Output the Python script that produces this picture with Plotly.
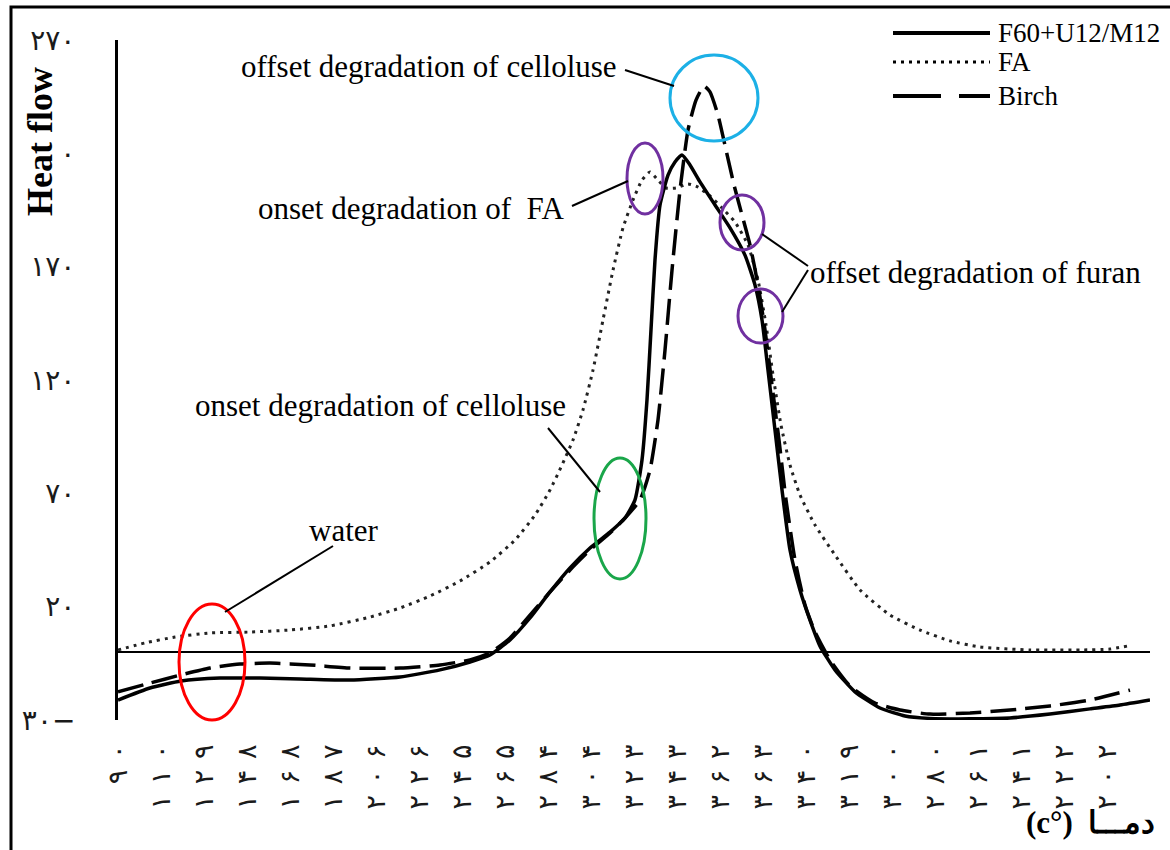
import plotly.graph_objects as go

# ---------------- data ----------------
# x positions are in "category label" units: label k sits at x = k
x_tick_pos = list(range(24))
x_tick_labels = ["۹۰", "۱۱۰", "۱۲۹", "۱۴۸", "۱۶۸", "۱۸۷", "۲۰۶", "۲۲۶", "۲۴۵", "۲۶۵",
                 "۲۸۴", "۳۰۴", "۳۲۳", "۳۴۳", "۳۶۲", "۳۶۳", "۳۴۰", "۳۱۹", "۳۰۰", "۲۸۰",
                 "۲۶۱", "۲۴۱", "۲۲۲", "۲۰۲"]
y_tick_vals = [270, 220, 170, 120, 70, 20, -30]
y_tick_labels = ["۲۷۰", "۲۲۰", "۱۷۰", "۱۲۰", "۷۰", "۲۰", "۳۰−"]

f60_x = [0, 0.744, 1.465, 2.372, 3.302, 4.233, 5.395, 6.558, 7.488, 8.186, 8.651, 9.116,
         9.581, 10.047, 10.512, 10.977, 11.442, 11.791, 12.023, 12.186, 12.302, 12.395,
         12.488, 12.605, 12.791, 12.953, 13.116, 13.302, 13.535, 13.884, 14.233, 14.581,
         14.814, 14.977, 15.116, 15.279, 15.442, 15.628, 15.860, 16.093, 16.326, 16.674,
         17.140, 17.721, 18.302, 18.884, 19.814, 20.744, 21.674, 22.605, 23.302, 24.0]
f60_y = [-21.2, -15.9, -12.8, -11.5, -11.5, -11.9, -12.4, -11.0, -7.9, -4.4, -1.3, 5.3,
         15.0, 26.5, 37.1, 45.9, 52.9, 59.1, 67.1, 84.7, 111.2, 142.1,
         172.9, 197.2, 210.4, 216.2, 219.3, 214.9, 207.4, 197.2, 187.1, 175.1,
         161.9, 146.5, 124.4, 97.9, 71.5, 45.0, 27.4, 14.1, 2.6, -7.9,
         -17.6, -24.7, -28.2, -29.3, -29.5, -29.1, -27.4, -25.1, -23.4, -21.2]

fa_x = [0, 0.628, 1.326, 2.140, 3.070, 4.0, 4.930, 5.860, 6.558, 7.256, 7.953, 8.651,
        9.233, 9.698, 10.047, 10.326, 10.581, 10.814, 11.047, 11.279, 11.512, 11.744,
        11.977, 12.186, 12.372, 12.558, 12.744, 12.977, 13.256, 13.488, 13.767, 14.047,
        14.349, 14.651, 14.884, 15.070, 15.233, 15.419, 15.628, 15.860, 16.209, 16.674,
        17.256, 17.953, 18.651, 19.349, 20.047, 21.209, 22.372, 23.070, 23.465]
fa_y = [0.9, 4.0, 6.6, 8.4, 8.8, 9.7, 11.5, 15.4, 19.4, 24.7, 31.3, 39.7,
        49.4, 60.4, 71.5, 82.5, 93.5, 106.8, 124.4, 146.5, 168.5, 187.1,
        199.4, 208.2, 211.8, 208.2, 204.7, 204.7, 206.5, 205.1, 201.2, 195.9,
        189.7, 179.6, 164.1, 144.3, 122.2, 100.1, 82.5, 69.3, 56.0, 42.8,
        27.4, 16.3, 9.7, 4.9, 2.2, 0.9, 0.9, 1.3, 2.6]

birch_x = [0, 0.744, 1.465, 2.140, 2.837, 3.535, 4.465, 5.395, 6.558, 7.488, 8.186, 8.651,
           9.116, 9.581, 10.047, 10.512, 10.977, 11.442, 11.791, 12.140, 12.372, 12.558,
           12.721, 12.884, 13.070, 13.256, 13.442, 13.628, 13.767, 13.953, 14.140, 14.326,
           14.512, 14.698, 14.884, 15.047, 15.209, 15.372, 15.535, 15.744, 15.977, 16.209,
           16.558, 17.023, 17.605, 18.186, 18.884, 19.814, 20.744, 21.674, 22.605, 23.535]
birch_y = [-17.6, -13.7, -10.1, -7.1, -5.3, -4.9, -5.7, -7.1, -7.1, -5.7, -3.5, -0.4,
           6.2, 16.3, 26.5, 36.2, 45.0, 52.5, 59.1, 67.1, 80.3, 102.4,
           133.2, 168.5, 203.8, 230.3, 243.5, 249.7, 247.1, 236.9, 221.5, 206.0,
           192.8, 179.6, 161.9, 142.1, 117.8, 93.5, 67.1, 40.6, 20.7, 8.8,
           -3.5, -15.0, -22.5, -25.6, -27.4, -26.9, -25.6, -23.8, -21.2, -16.8]

# ---------------- layout helpers (pixel -> paper) ----------------
W, H = 1170, 850
L, R, T, B = 118, 20, 40, 130
PW, PH = W - L - R, H - T - B


def px(x):
    return (x - L) / PW


def py(y):
    return (H - B - y) / PH


SERIF = "Times New Roman, Liberation Serif, serif"
DIGITS = "DejaVu Sans, Noto Sans, sans-serif"


def spaced(s, sep):
    return sep.join(list(s))


fig = go.Figure()
fig.add_trace(go.Scatter(x=fa_x, y=fa_y, mode="lines", name="FA",
                         line=dict(color="#222", width=3, dash="3px,5px", shape="spline", smoothing=0.5)))
fig.add_trace(go.Scatter(x=birch_x, y=birch_y, mode="lines", name="Birch",
                         line=dict(color="black", width=3.5, dash="26px,9px", shape="spline", smoothing=0.5)))
fig.add_trace(go.Scatter(x=f60_x, y=f60_y, mode="lines", name="F60+U12/M12",
                         line=dict(color="black", width=3.5, shape="spline", smoothing=0.5)))

fig.update_layout(
    width=W, height=H, autosize=False,
    margin=dict(l=L, r=R, t=T, b=B),
    plot_bgcolor="white", paper_bgcolor="white",
    showlegend=False,
    xaxis=dict(range=[0, 24], tickmode="array", tickvals=x_tick_pos,
               ticktext=[spaced(t, "\u2009\u2009") for t in x_tick_labels], tickangle=-90,
               showgrid=False, zeroline=False, showline=False, ticks="",
               ticklabelstandoff=18,
               tickfont=dict(family=DIGITS, size=27, color="#1a1a1a")),
    yaxis=dict(range=[-30, 270], tickmode="array", tickvals=y_tick_vals,
               ticktext=y_tick_labels,
               showgrid=False, zeroline=True, zerolinecolor="black", zerolinewidth=2,
               showline=True, linecolor="black", linewidth=3, ticks="",
               ticklabelstandoff=34,
               tickfont=dict(family=DIGITS, size=28, color="#1a1a1a")),
)

shapes = []
annotations = []

# outer frame
shapes.append(dict(type="rect", xref="paper", yref="paper",
                   x0=px(11), x1=px(1175), y0=py(855), y1=py(7),
                   line=dict(color="black", width=3)))

# ellipses
ellipses = [
    (670, 758, 55, 141, "#1cb0e6"),
    (627, 663, 143, 214, "#7030a0"),
    (720, 764, 195, 250, "#7030a0"),
    (738, 783, 289, 343, "#7030a0"),
    (594, 646, 458, 579, "#1aa64a"),
    (179, 245, 604, 720, "#ff0000"),
]
for x0, x1, y0, y1, c in ellipses:
    shapes.append(dict(type="circle", xref="paper", yref="paper",
                       x0=px(x0), x1=px(x1), y0=py(y1), y1=py(y0),
                       line=dict(color=c, width=3)))

# connector lines
connectors = [
    (625, 70, 674, 86),
    (572, 206, 628, 181),
    (808, 266, 762, 234),
    (808, 270, 782, 312),
    (548, 428, 600, 492),
    (333, 546, 225, 612),
]
for x0, y0, x1, y1 in connectors:
    shapes.append(dict(type="line", xref="paper", yref="paper",
                       x0=px(x0), y0=py(y0), x1=px(x1), y1=py(y1),
                       line=dict(color="black", width=2)))

# text annotations
texts = [
    ("offset degradation of celloluse", 429, 67),
    ("onset degradation of  FA", 411, 208),
    ("offset degradation of furan", 975, 272),
    ("onset degradation of celloluse", 380, 405),
    ("water", 344, 530),
]
for t, x, y in texts:
    annotations.append(dict(text=t, xref="paper", yref="paper", x=px(x), y=py(y),
                            xanchor="center", yanchor="middle", showarrow=False,
                            font=dict(family=SERIF, size=31, color="black")))

# legend (drawn manually)
legend = [
    ("F60+U12/M12", 33, "solid"),
    ("FA", 62, "3px,5px"),
    ("Birch", 96, "48px,18px"),
]
for name, y, dash in legend:
    shapes.append(dict(type="line", xref="paper", yref="paper",
                       x0=px(893), x1=px(990), y0=py(y), y1=py(y),
                       line=dict(color="black", width=4 if dash != "3px,5px" else 3, dash=dash)))
    annotations.append(dict(text=name, xref="paper", yref="paper", x=px(996), y=py(y),
                            xanchor="left", yanchor="middle", showarrow=False,
                            font=dict(family=SERIF, size=27, color="black")))

# axis titles
annotations.append(dict(text="<b>Heat flow</b>", xref="paper", yref="paper",
                        x=px(40), y=py(142), xanchor="center", yanchor="middle",
                        textangle=-90, showarrow=False, bgcolor="white",
                        font=dict(family=SERIF, size=36, color="black")))
annotations.append(dict(text="<b>(c°)  دمـــا</b>", xref="paper", yref="paper",
                        x=px(1090), y=py(823), xanchor="center", yanchor="middle",
                        showarrow=False,
                        font=dict(family=SERIF, size=31, color="black")))

fig.update_layout(shapes=shapes, annotations=annotations)
fig.write_html("out.html", config={"displayModeBar": False},
               post_script="document.body.style.margin='0';")
